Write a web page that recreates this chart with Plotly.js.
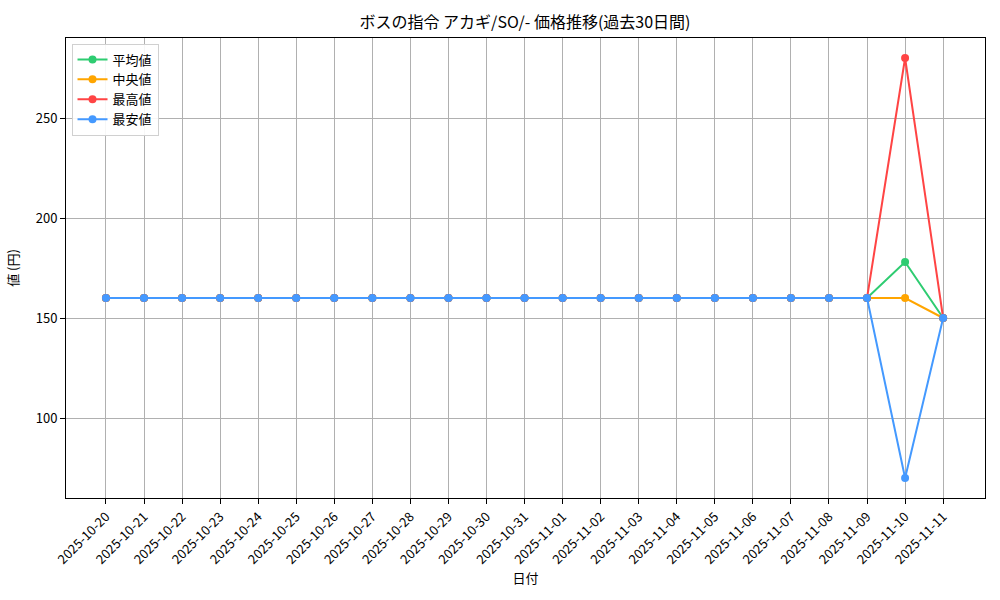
<!DOCTYPE html>
<html>
<head>
<meta charset="utf-8">
<script src="https://cdn.plot.ly/plotly-3.0.1.min.js"></script>
<style>
  html, body { margin: 0; padding: 0; background: #fff; }
  #chart { width: 1000px; height: 600px; }
</style>
</head>
<body>
<div id="chart"></div>
<script>
const dates = [
  "2025-10-20", "2025-10-21", "2025-10-22", "2025-10-23", "2025-10-24", "2025-10-25",
  "2025-10-26", "2025-10-27", "2025-10-28", "2025-10-29", "2025-10-30", "2025-10-31",
  "2025-11-01", "2025-11-02", "2025-11-03", "2025-11-04", "2025-11-05", "2025-11-06",
  "2025-11-07", "2025-11-08", "2025-11-09", "2025-11-10", "2025-11-11"
];
const avgPrice = [160, 160, 160, 160, 160, 160, 160, 160, 160, 160, 160, 160, 160, 160, 160, 160, 160, 160, 160, 160, 160, 178, 150];
const medianPrice = [160, 160, 160, 160, 160, 160, 160, 160, 160, 160, 160, 160, 160, 160, 160, 160, 160, 160, 160, 160, 160, 160, 150];
const maxPrice = [160, 160, 160, 160, 160, 160, 160, 160, 160, 160, 160, 160, 160, 160, 160, 160, 160, 160, 160, 160, 160, 280, 150];
const minPrice = [160, 160, 160, 160, 160, 160, 160, 160, 160, 160, 160, 160, 160, 160, 160, 160, 160, 160, 160, 160, 160, 70, 150];

const FONT = "'Noto Sans CJK JP', 'DejaVu Sans', sans-serif";

function series(name, values, color) {
  return {
    x: dates,
    y: values,
    name: name,
    type: "scatter",
    mode: "lines+markers",
    line: { color: color, width: 2 },
    marker: { color: color, size: 8 },
  };
}

const traces = [
  series("平均値", avgPrice, "#2ecc71"),
  series("中央値", medianPrice, "#ffa500"),
  series("最高値", maxPrice, "#ff4444"),
  series("最安値", minPrice, "#4499ff"),
];

const axisCommon = {
  showline: true,
  linecolor: "#000",
  linewidth: 1,
  mirror: true,
  ticks: "outside",
  ticklen: 5,
  tickcolor: "#000",
  showgrid: true,
  gridcolor: "#b0b0b0",
  gridwidth: 1,
  zeroline: false,
  tickfont: { family: FONT, size: 13, color: "#000" },
};

const layout = {
  width: 1000,
  height: 600,
  margin: { l: 66, r: 15, t: 38, b: 102 },
  paper_bgcolor: "#fff",
  plot_bgcolor: "#fff",
  font: { family: FONT, color: "#000" },
  title: {
    text: "ボスの指令 アカギ/SO/- 価格推移(過去30日間)",
    font: { family: FONT, size: 16, color: "#000" },
    x: 0.525, xanchor: "center", y: 0.963, yanchor: "middle",
  },
  xaxis: Object.assign({}, axisCommon, {
    type: "category",
    range: [-1.05, 23.1],
    tickangle: -45,
    title: { text: "日付", font: { family: FONT, size: 13 }, standoff: 6 },
  }),
  yaxis: Object.assign({}, axisCommon, {
    range: [60, 290],
    tickvals: [100, 150, 200, 250],
    title: { text: "値 (円)", font: { family: FONT, size: 13 }, standoff: 14 },
  }),
  showlegend: true,
  legend: {
    x: 0.006, y: 0.988, xanchor: "left", yanchor: "top",
    bgcolor: "rgba(255,255,255,0.9)",
    bordercolor: "#d0d0d0",
    borderwidth: 1,
    font: { family: FONT, size: 13 },
    tracegroupgap: 0,
  },
};

Plotly.newPlot("chart", traces, layout, { displayModeBar: false, staticPlot: true });
</script>
</body>
</html>
